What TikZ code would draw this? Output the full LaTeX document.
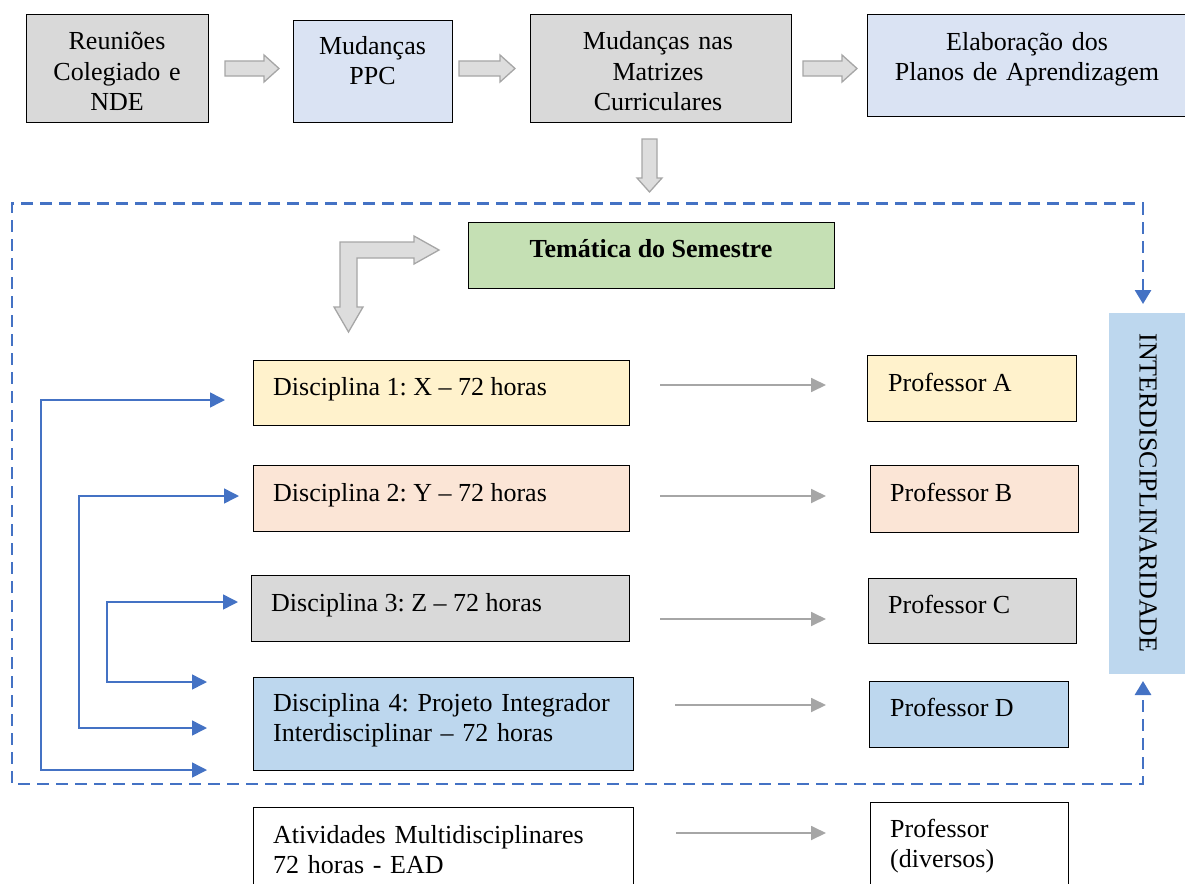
\documentclass[tikz,border=0pt]{standalone}
\usepackage{fontspec}
\setmainfont{Liberation Serif}
\usetikzlibrary{arrows.meta,calc}
\frenchspacing

\definecolor{boxgray}{HTML}{D9D9D9}
\definecolor{paleblue}{HTML}{DAE3F3}
\definecolor{palegreen}{HTML}{C5E0B4}
\definecolor{paleyellow}{HTML}{FFF2CC}
\definecolor{palepeach}{HTML}{FBE5D6}
\definecolor{skyblue}{HTML}{BDD7EE}
\definecolor{linkblue}{HTML}{4472C4}
\definecolor{arrowgray}{HTML}{A6A6A6}
\definecolor{blockfill}{HTML}{DDDDDD}

\begin{document}
\begin{tikzpicture}[x=1pt,y=-1pt,
  font=\fontsize{26}{30}\selectfont,
  box/.style={draw=black, line width=1.1pt, inner sep=0pt, anchor=north west},
  lbl/.style={inner sep=0pt, anchor=base west, align=left},
  clbl/.style={inner sep=0pt, anchor=base, align=center},
  flowarrow/.style={fill=blockfill, draw=arrowgray, line width=1.3pt, line join=miter},
  thinarrow/.style={draw=arrowgray, line width=1.8pt, -{Triangle[length=15pt,width=14pt]}},
  linkarrow/.style={draw=linkblue, line width=1.5pt,
    {Triangle[length=15pt,width=15pt]}-{Triangle[length=15pt,width=15pt]}},
  frame/.style={draw=linkblue, line width=2.8pt, dash pattern=on 12pt off 7pt,
    {Triangle[length=14pt,width=16pt]}-{Triangle[length=14pt,width=16pt]}},
]
\useasboundingbox (0,0) rectangle (1185,883);
\clip (0,0) rectangle (1185,883);

% ---------- top row ----------
\node[box, fill=boxgray,  minimum width=182pt, minimum height=108pt] (reun) at (26,14) {};
\node[box, fill=paleblue, minimum width=159pt, minimum height=102pt] (ppc)  at (293,20) {};
\node[box, fill=boxgray,  minimum width=261pt, minimum height=108pt] (matr) at (530,14) {};
\node[box, fill=paleblue, minimum width=318pt, minimum height=102pt] (elab) at (867,14) {};

\node[clbl, text width=180pt] (reun-t) at (117,50) {Reuniões\\Colegiado e\\NDE};
\node[clbl, text width=158pt] (ppc-t)  at (372.5,55) {Mudanças\\PPC};
\node[clbl, text width=260pt] (matr-t) at (658,50) {Mudanças nas\\Matrizes\\Curriculares};
\node[clbl, text width=316pt] (elab-t) at (1027,51) {Elaboração dos\\Planos de Aprendizagem};

% hollow block arrows between the steps
\draw[flowarrow] (225,61)--(264,61)--(264,55)--(279,68.5)--(264,82)--(264,76)--(225,76)--cycle;
\draw[flowarrow] (459,61)--(500,61)--(500,55)--(515,68.5)--(500,82)--(500,76)--(459,76)--cycle;
\draw[flowarrow] (803,61)--(842,61)--(842,55)--(857,68.5)--(842,82)--(842,76)--(803,76)--cycle;
\draw[flowarrow] (642,139)--(657,139)--(657,178)--(662,178)--(649.5,192)--(637,178)--(642,178)--cycle;

% ---------- semester theme ----------
\node[box, fill=palegreen, minimum width=366pt, minimum height=66pt] (tema) at (468,222) {};
\node[clbl, font=\fontsize{26}{30}\selectfont\bfseries] (tema-t) at (651,257) {Temática do Semestre};

% bent block arrow
\draw[flowarrow] (340,242)--(414,242)--(414,236)--(439,250)--(414,264)--(414,258)
  --(357,258)--(357,307)--(363,307)--(348.5,332)--(334,307)--(340,307)--cycle;

% ---------- interdisciplinarity ----------
\node[box, draw=none, fill=skyblue, minimum width=77pt, minimum height=361pt] (inter) at (1108,312) {};
\node[inner sep=0pt, rotate=-90] (inter-t) at (1148,493) {INTERDISCIPLINARIDADE};

\coordinate (frame-top) at (1143,304);
\coordinate (frame-bot) at (1143,681);
\draw[frame] (frame-top) -- (1143,203.5) -- (12,203.5) -- (12,784) -- (1143,784) -- (frame-bot);

% ---------- disciplines ----------
\node[box, fill=paleyellow, minimum width=376pt, minimum height=65pt] (d1) at (253,360) {};
\node[box, fill=palepeach,  minimum width=376pt, minimum height=66pt] (d2) at (253,465) {};
\node[box, fill=boxgray,    minimum width=378pt, minimum height=66pt] (d3) at (251,575) {};
\node[box, fill=skyblue,    minimum width=380pt, minimum height=93pt] (d4) at (253,677) {};
\node[box, fill=white,      minimum width=380pt, minimum height=110pt] (ativ) at (253,807) {};

\node[lbl] (d1-t) at (273,395) {Disciplina 1: X – 72 horas};
\node[lbl] (d2-t) at (273,501) {Disciplina 2: Y – 72 horas};
\node[lbl] (d3-t) at (271,611) {Disciplina 3: Z – 72 horas};
\node[lbl, text width=360pt] (d4-t) at (273,711) {Disciplina 4: Projeto Integrador\\Interdisciplinar – 72 horas};
\node[lbl, text width=360pt] (ativ-t) at (273,843) {Atividades Multidisciplinares\\72 horas - EAD};

% ---------- teachers ----------
\node[box, fill=paleyellow, minimum width=209pt, minimum height=66pt] (pa) at (867,355) {};
\node[box, fill=palepeach,  minimum width=208pt, minimum height=67pt] (pb) at (870,465) {};
\node[box, fill=boxgray,    minimum width=208pt, minimum height=65pt] (pc) at (868,578) {};
\node[box, fill=skyblue,    minimum width=199pt, minimum height=66pt] (pd) at (869,681) {};
\node[box, fill=white,      minimum width=198pt, minimum height=110pt] (pdiv) at (870,802) {};

\node[lbl] (pa-t) at (888,391) {Professor A};
\node[lbl] (pb-t) at (890,501) {Professor B};
\node[lbl] (pc-t) at (888,613) {Professor C};
\node[lbl] (pd-t) at (890,716) {Professor D};
\node[lbl, text width=180pt] (pdiv-t) at (890,837) {Professor\\(diversos)};

% discipline -> teacher arrows
\coordinate (a1s) at (660,385);   \coordinate (a1e) at (826,385);
\coordinate (a2s) at (660,496);   \coordinate (a2e) at (826,496);
\coordinate (a3s) at (660,619);   \coordinate (a3e) at (826,619);
\coordinate (a4s) at (675,705);   \coordinate (a4e) at (826,705);
\coordinate (a5s) at (676,833);   \coordinate (a5e) at (826,833);
\draw[thinarrow] (a1s) -- (a1e);
\draw[thinarrow] (a2s) -- (a2e);
\draw[thinarrow] (a3s) -- (a3e);
\draw[thinarrow] (a4s) -- (a4e);
\draw[thinarrow] (a5s) -- (a5e);

% links from each discipline to the integrating project
\coordinate (l1a) at (225,400); \coordinate (l1b) at (207,770);
\coordinate (l2a) at (239,496); \coordinate (l2b) at (207,728);
\coordinate (l3a) at (238,602); \coordinate (l3b) at (207,682);
\draw[linkarrow] (l1a) -- (41,400) -- (41,770) -- (l1b);
\draw[linkarrow] (l2a) -- (79,496) -- (79,728) -- (l2b);
\draw[linkarrow] (l3a) -- (107,602) -- (107,682) -- (l3b);

\end{tikzpicture}
\end{document}
